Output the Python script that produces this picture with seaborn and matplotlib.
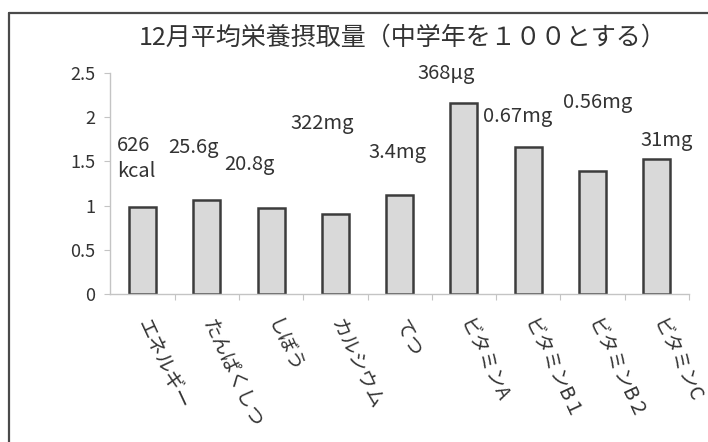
import matplotlib
matplotlib.use("Agg")
import matplotlib.pyplot as plt
from matplotlib.lines import Line2D
from matplotlib.ticker import FuncFormatter, FixedLocator
import seaborn as sns
import pandas as pd

# 12月の平均栄養摂取量（中学年の基準を1とした比）
nutrients = ["エネルギー", "たんぱくしつ", "しぼう", "カルシウム", "てつ",
             "ビタミンA", "ビタミンB１", "ビタミンB２", "ビタミンC"]
ratios = [0.98, 1.065, 0.975, 0.905, 1.12, 2.16, 1.66, 1.385, 1.53]
amounts = ["626\nkcal", "25.6g", "20.8g", "322mg", "3.4mg",
           "368μg", "0.67mg", "0.56mg", "31mg"]
# position of each amount label (category units, axis units)
amount_x = [-0.40, 0.40, 1.27, 2.30, 3.52, 4.28, 5.29, 6.54, 7.75]
amount_y = [1.53, 1.66, 1.46, 1.93, 1.60, 2.49, 2.01, 2.17, 1.74]
y_ticks = [0, 0.5, 1, 1.5, 2, 2.5]
title = "12月平均栄養摂取量（中学年を１００とする）"

df = pd.DataFrame({"nutrient": nutrients, "ratio": ratios})

sns.set_theme(style="white")
plt.rcParams["font.family"] = ["Noto Sans CJK JP", "DejaVu Sans"]
text_color = "#333333"

fig = plt.figure(figsize=(7.08, 4.42), dpi=100)
fig.patch.set_facecolor("white")
ax = fig.add_axes([0.156, 0.335, 0.817, 0.500])

sns.barplot(data=df, x="nutrient", y="ratio", color="#d9d9d9",
            saturation=1, edgecolor="#3c3c3c", linewidth=1.8,
            width=0.42, ax=ax)

ax.set_xlim(-0.5, len(nutrients) - 0.5)
ax.set_ylim(0, 2.5)
ax.set_xlabel("")
ax.set_ylabel("")

for side in ("top", "right"):
    ax.spines[side].set_visible(False)
for side in ("left", "bottom"):
    ax.spines[side].set_color("#c4c4c4")
    ax.spines[side].set_linewidth(1.0)

ax.yaxis.set_major_locator(FixedLocator(y_ticks))
ax.yaxis.set_major_formatter(FuncFormatter(lambda v, _: f"{v:g}"))
ax.tick_params(axis="y", left=True, length=4, width=0.8, color="#c4c4c4",
               labelsize=13, labelcolor=text_color, pad=7)

# category ticks sit between the bars
ax.set_xticks([i + 0.5 for i in range(len(nutrients))], minor=True)
ax.tick_params(axis="x", which="minor", bottom=True, length=4, width=0.8,
               color="#c4c4c4")
ax.tick_params(axis="x", which="major", bottom=False, length=0, pad=19,
               labelsize=14, labelcolor=text_color)
ax.set_xticks(range(len(nutrients)))
ax.set_xticklabels(nutrients, rotation=-65, ha="left", va="center",
                   rotation_mode="anchor")

for label, x, y in zip(amounts, amount_x, amount_y):
    ax.text(x, y, label, ha="left", va="center", fontsize=14.5,
            color=text_color, linespacing=1.35)

fig.text(0.568, 0.914, title, ha="center", va="center", fontsize=18,
         color=text_color)

# chart-area frame
fig.add_artist(Line2D([9 / 708, 1.0], [1 - 13 / 442, 1 - 13 / 442],
                      transform=fig.transFigure, color="#4a4a4a", lw=1.6))
fig.add_artist(Line2D([9 / 708, 9 / 708], [0.0, 1 - 13 / 442],
                      transform=fig.transFigure, color="#4a4a4a", lw=1.6))

fig.savefig("out.png", dpi=100, facecolor="white")
